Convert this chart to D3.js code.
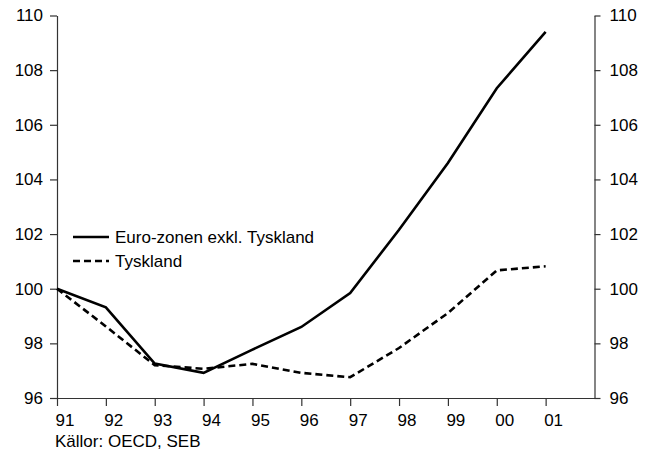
<!DOCTYPE html>
<html><head><meta charset="utf-8">
<script src="https://cdn.jsdelivr.net/npm/d3@7"></script>
<style>
body{margin:0;background:#fff;}
text{font-family:Arial,"Liberation Sans",sans-serif;}
</style></head>
<body><svg id="c" width="649" height="451"></svg>
<script>
const years = ["91","92","93","94","95","96","97","98","99","00","01"];
const euroExTyskland = [100, 99.32, 97.26, 96.92, 97.77, 98.6, 99.84, 102.16, 104.6, 107.34, 109.4];
const tyskland = [100, 98.62, 97.2, 97.07, 97.25, 96.92, 96.76, 97.83, 99.11, 100.67, 100.82];
const yTicks = [96, 98, 100, 102, 104, 106, 108, 110];
const seriesNames = ["Euro-zonen exkl. Tyskland", "Tyskland"];
const source = "Källor: OECD, SEB";

const svg = d3.select("#c");
const x = d3.scaleLinear().domain([0, 11]).range([57, 594.5]);
const y = d3.scaleLinear().domain([96, 110]).range([398, 15.5]);
const fs = "17px";
const axCol = "#333";

// bottom axis
const gx = svg.append("g").attr("transform", "translate(0,398)")
  .call(d3.axisBottom(x).tickValues(d3.range(years.length)).tickFormat(i => years[i]).tickSize(8).tickSizeOuter(0));
gx.selectAll("text").attr("font-size", fs).attr("fill", "#000").attr("text-anchor", "start").attr("dx", "-2").attr("y", 16).attr("dy", "0.71em");
gx.selectAll("line,path").attr("stroke", axCol).attr("stroke-width", 1.2);

// left axis
const gl = svg.append("g").attr("transform", "translate(57,0)")
  .call(d3.axisLeft(y).tickValues(yTicks).tickSize(7).tickPadding(7).tickSizeOuter(0));
gl.selectAll("text").attr("font-size", fs).attr("fill", "#000");
gl.selectAll("line,path").attr("stroke", axCol).attr("stroke-width", 1.2);

// right axis
const gr = svg.append("g").attr("transform", "translate(594.5,0)")
  .call(d3.axisRight(y).tickValues(yTicks).tickSize(6).tickPadding(9).tickSizeOuter(0));
gr.selectAll("text").attr("font-size", fs).attr("fill", "#000");
gr.selectAll("line,path").attr("stroke", axCol).attr("stroke-width", 1.2);

const line = d3.line().x((d, i) => x(i)).y(d => y(d));
svg.append("path").datum(tyskland).attr("d", line).attr("fill", "none")
  .attr("stroke", "#000").attr("stroke-width", 2.6).attr("stroke-dasharray", "7,4");
svg.append("path").datum(euroExTyskland).attr("d", line).attr("fill", "none")
  .attr("stroke", "#000").attr("stroke-width", 2.6);

// legend
const leg = svg.append("g");
[0, 1].forEach(k => {
  const ly = 237 + k * 24;
  leg.append("line").attr("x1", 73).attr("x2", 109).attr("y1", ly).attr("y2", ly)
    .attr("stroke", "#000").attr("stroke-width", 2.6)
    .attr("stroke-dasharray", k === 1 ? "7,4" : null);
  leg.append("text").attr("x", 115).attr("y", ly).attr("dy", "0.35em")
    .attr("font-size", fs).text(seriesNames[k]);
});

svg.append("text").attr("x", 55).attr("y", 447).attr("font-size", fs).text(source);
</script></body></html>
